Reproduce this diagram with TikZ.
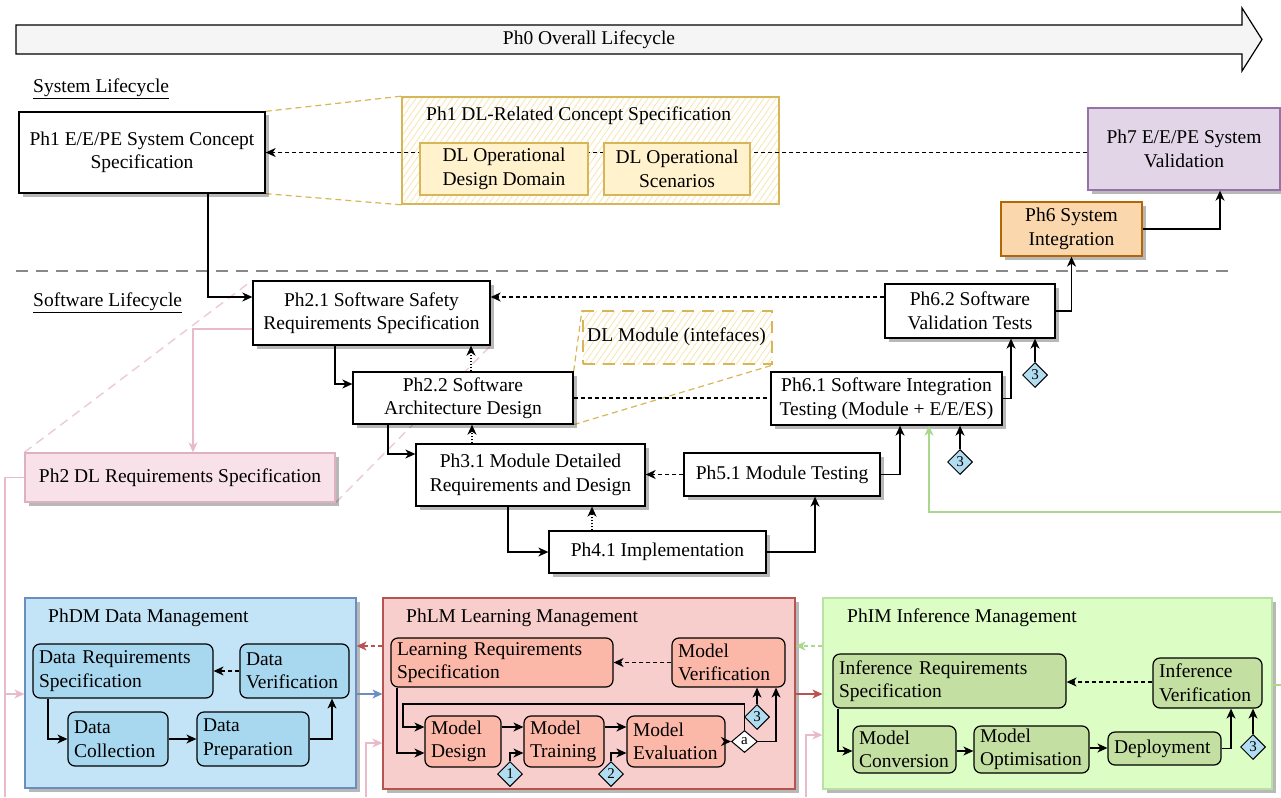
\documentclass[tikz,border=0pt]{standalone}
\usepackage{fontspec}
\setmainfont{Liberation Serif}
\usetikzlibrary{arrows.meta,shapes.geometric,shadows,patterns.meta,backgrounds}
\definecolor{arrowfill}{HTML}{F5F5F5}
\definecolor{purplef}{HTML}{E1D5E7}
\definecolor{purpled}{HTML}{9673A6}
\definecolor{orangef}{HTML}{FAD7AC}
\definecolor{oranged}{HTML}{B46504}
\definecolor{yelf}{HTML}{FFF2CC}
\definecolor{yeld}{HTML}{D6B656}
\definecolor{yelhatch}{HTML}{F7E6B0}
\definecolor{pinkf}{HTML}{F8E1E9}
\definecolor{pinkd}{HTML}{DDB0C2}
\definecolor{pinkl}{HTML}{E8BACB}
\definecolor{bluef}{HTML}{C2E4F6}
\definecolor{blued}{HTML}{6C8EBF}
\definecolor{blueb}{HTML}{A8D8F0}
\definecolor{redf}{HTML}{F8CECC}
\definecolor{redd}{HTML}{B85450}
\definecolor{redb}{HTML}{FBB8A9}
\definecolor{greenf}{HTML}{DCFDC3}
\definecolor{greend}{HTML}{B9E0A5}
\definecolor{greenb}{HTML}{C3DFA2}
\definecolor{greenl}{HTML}{A9D78C}
\definecolor{diaf}{HTML}{B1DDF0}
\definecolor{sepgray}{HTML}{888888}
\begin{document}
\begin{tikzpicture}[x=1pt,y=-1pt,
  every node/.style={font=\fontsize{19.5}{23.5}\selectfont},
  shad/.style={drop shadow={shadow xshift=3.5pt,shadow yshift=-3.5pt,fill=black,opacity=0.28}},
  pbox/.style={draw=black,line width=1.3pt,fill=white,align=center,inner sep=0pt,shad},
  ib/.style={draw=black,line width=1.2pt,rounded corners=7pt,align=left,inner xsep=6pt,inner ysep=0pt},
  ctr/.style={line width=1.2pt,inner sep=0pt,shad},
  dia/.style={diamond,draw=black,fill=diaf,line width=1pt,inner sep=0pt,minimum width=25pt,minimum height=25pt,font=\fontsize{15}{15}\selectfont},
  arr/.style={line width=1.3pt,-{Stealth[length=10pt,width=9pt,inset=3pt]}},
  darr/.style={arr,dash pattern=on 4pt off 3pt},
  dotarr/.style={arr,dash pattern=on 1.5pt off 1.5pt},
  dline/.style={line width=1.3pt,dash pattern=on 4pt off 3pt},
  goldzoom/.style={draw=yeld,line width=1.2pt,dash pattern=on 6pt off 4pt},
  pinkzoom/.style={draw=pinkl,line width=1.5pt,dash pattern=on 9pt off 6pt,opacity=0.75},
  pinkline/.style={draw=pinkl,line width=1.5pt},
  pinkarr/.style={arr,draw=pinkl,line width=1.5pt},
  redarr/.style={arr,draw=redd},
  bluearr/.style={arr,draw=blued},
  greenarr/.style={arr,draw=greenl},
  greenline/.style={draw=greenl,line width=1.2pt},
  hatch/.style={preaction={fill=white},pattern={Lines[angle=55,distance=5pt,line width=0.8pt]},pattern color=yelhatch},
  ttl/.style={anchor=west,inner sep=0pt}
]
\useasboundingbox (0,0) rectangle (1281,797);

% Ph0 overall lifecycle arrow
\draw[fill=arrowfill,line width=1.2pt] (16,25) -- (1242,25) -- (1242,8) -- (1262,39.5) -- (1242,71) -- (1242,54) -- (16,54) -- cycle;
\node (ph0) at (589,39.5) {Ph0 Overall Lifecycle};

\node[ttl] (syslc) at (33,89) {\underline{System Lifecycle}};
\node[ttl] (swlc) at (33,303) {\underline{Software Lifecycle}};
\draw[draw=sepgray,line width=1.2pt,dash pattern=on 12pt off 8pt] (16,271) -- (1232,271);

% ---------- system level ----------
\node[pbox,minimum width=246pt,minimum height=81pt] (ph1) at (142,152.5) {Ph1 E/E/PE System Concept\\Specification};
\node[pbox,fill=purplef,draw=purpled,minimum width=192pt,minimum height=82pt] (ph7) at (1184,149) {Ph7 E/E/PE System\\Validation};
\node[pbox,fill=orangef,draw=oranged,minimum width=141pt,minimum height=54pt] (ph6) at (1071.5,229) {Ph6 System\\Integration};

\node[hatch,draw=yeld,line width=1.6pt,minimum width=377pt,minimum height=107pt,inner sep=0pt] (dlc) at (590.5,150.5) {};
\node[ttl] (dlct) at (426,116) {Ph1 DL-Related Concept Specification};
\draw[darr] (ph7.west |- ph1.east) -- (ph1.east);
\node[draw=yeld,fill=yelf,line width=1.2pt,align=center,inner sep=0pt,minimum width=168pt,minimum height=52pt] (odd) at (504,169) {DL Operational\\Design Domain};
\node[draw=yeld,fill=yelf,line width=1.2pt,align=center,inner sep=0pt,minimum width=146pt,minimum height=52pt] (scen) at (677,169) {DL Operational\\Scenarios};

\draw[arr] (ph6.east) -| ([xshift=36pt]ph7.south);

% ---------- software level ----------
\node[pbox,minimum width=237pt,minimum height=64pt] (ph21) at (371.5,313) {Ph2.1 Software Safety\\Requirements Specification};
\node[pbox,minimum width=170pt,minimum height=54pt] (ph62) at (970,311) {Ph6.2 Software\\Validation Tests};
\node[pbox,minimum width=220pt,minimum height=52pt] (ph22) at (463,398) {Ph2.2 Software\\Architecture Design};
\node[pbox,minimum width=231pt,minimum height=53pt] (ph61) at (886.5,398.5) {Ph6.1 Software Integration\\Testing (Module + E/E/ES)};
\node[pbox,minimum width=229pt,minimum height=62pt] (ph31) at (530.5,475) {Ph3.1 Module Detailed\\Requirements and Design};
\node[pbox,minimum width=196pt,minimum height=43pt] (ph51) at (782,474.5) {Ph5.1 Module Testing};
\node[pbox,minimum width=217pt,minimum height=42pt] (ph41) at (657.5,552) {Ph4.1 Implementation};
\node[pbox,fill=pinkf,draw=pinkd,minimum width=310pt,minimum height=49pt] (ph2dl) at (180,477.5) {Ph2 DL Requirements Specification};

\node[hatch,draw=yeld,line width=2pt,dash pattern=on 12pt off 8pt,minimum width=189pt,minimum height=53pt,inner sep=0pt] (dlm) at (677.5,337.5) {};
\node[ttl] (dlmt) at (587,337) {DL Module (intefaces)};

\node[dia] (d3a) at (1035,375) {3};
\node[dia] (d3b) at (960,462) {3};

\begin{scope}[on background layer]
  \draw[goldzoom] (ph1.north east) -- (dlc.north west);
  \draw[goldzoom] (ph1.south east) -- (dlc.south west);
  \draw[goldzoom] (ph22.north east) -- (dlm.north west);
  \draw[goldzoom] (ph22.south east) -- (dlm.south east);
  \draw[pinkzoom] (ph2dl.north west) -- (ph21.north west);
  \draw[pinkzoom] (ph2dl.south east) -- (ph21.south east);
\end{scope}

\draw[arr] (208,0 |- ph1.south) |- (ph21.west |- 0,297);
\draw[darr] (ph62.west |- 0,297) -- (ph21.east |- 0,297);
\draw[arr] (ph62.east) -| (ph6.south);
\draw[pinkarr] (ph21.west |- 0,329) -| (193,0 |- ph2dl.north);
\draw[arr] (335,0 |- ph21.south) |- (ph22.west |- 0,384);
\draw[dotarr] (471,0 |- ph22.north) -- (471,0 |- ph21.south);
\draw[arr] (388,0 |- ph22.south) |- (ph31.west |- 0,454);
\draw[dotarr] (472,0 |- ph31.north) -- (472,0 |- ph22.south);
\draw[arr] (508,0 |- ph31.south) |- (ph41.west);
\draw[dotarr] (592,0 |- ph41.north) -- (592,0 |- ph31.south);
\draw[arr] (ph41.east) -| (815,0 |- ph51.south);
\draw[darr] (ph51.west) -- (ph31.east |- ph51.west);
\draw[dline] (ph22.east) -- (ph61.west |- ph22.east);
\draw[arr] (ph51.east) -| (900,0 |- ph61.south);
\draw[arr] (ph61.east) -| (1011,0 |- ph62.south);
\draw[arr] (d3a.north) -- (d3a.north |- ph62.south);
\draw[arr] (d3b.north) -- (d3b.north |- ph61.south);
\coordinate (gin) at (1281,512);
\draw[greenarr] (gin) -| (929,0 |- ph61.south);

% ---------- bottom panels ----------
\node[ctr,draw=blued,fill=bluef,minimum width=331pt,minimum height=190pt] (phdm) at (190.5,693) {};
\node[ttl] (phdmt) at (48,618) {PhDM Data Management};
\node[ctr,draw=redd,fill=redf,minimum width=412pt,minimum height=191pt] (phlm) at (589,693.5) {};
\node[ttl] (phlmt) at (406,618) {PhLM Learning Management};
\node[ctr,draw=greend,fill=greenf,minimum width=449pt,minimum height=191pt] (phim) at (1047.5,693.5) {};
\node[ttl] (phimt) at (847,618) {PhIM Inference Management};

% PhDM
\node[ib,fill=blueb,text width=168pt,minimum height=54pt] (drs) at (123,671) {Data Requirements\\Specification};
\node[ib,fill=blueb,text width=97pt,minimum height=54pt] (dv) at (294.5,671) {Data\\Verification};
\node[ib,fill=blueb,text width=88pt,minimum height=54pt] (dc) at (118,739) {Data\\Collection};
\node[ib,fill=blueb,text width=100pt,minimum height=54pt] (dp) at (253,739) {Data\\Preparation};
\draw[darr] (dv.west) -- (drs.east |- dv.west);
\draw[arr] (48,0 |- drs.south) |- (dc.west);
\draw[arr] (dc.east) -- (dp.west);
\draw[arr] (dp.east) -| (332,0 |- dv.south);

% PhLM
\node[ib,fill=redb,text width=210pt,minimum height=49pt] (lrs) at (502,662.5) {Learning Requirements\\Specification};
\node[ib,fill=redb,text width=101pt,minimum height=49pt] (mv) at (728.5,662.5) {Model\\Verification};
\node[ib,fill=redb,text width=64pt,minimum height=51pt] (md) at (463,741.5) {Model\\Design};
\node[ib,fill=redb,text width=68pt,minimum height=51pt] (mt) at (564,741.5) {Model\\Training};
\node[ib,fill=redb,text width=86pt,minimum height=51pt] (me) at (676,741.5) {Model\\Evaluation};
\node[dia,fill=white,minimum width=26pt,minimum height=22pt] (da) at (744.5,741.5) {a};
\node[dia] (d3l) at (757,717) {3};
\node[dia] (d1) at (510,774) {1};
\node[dia] (d2) at (611,774) {2};
\draw[darr] (mv.west) -- (lrs.east |- mv.west);
\draw[arr] (397,0 |- lrs.south) |- (md.west |- 0,753);
\draw[arr] (da.north) |- (403,704) |- (md.west |- 0,727);
\draw[arr] (me.east) -- (da.west);
\draw[arr] (da.east) -| (776,0 |- mv.south);
\draw[arr] (d3l.north) -- (d3l.north |- mv.south);
\draw[arr] (md.east |- 0,727) -- (mt.west |- 0,727);
\draw[arr] (d1.north) |- (mt.west |- 0,753);
\draw[arr] (mt.east |- 0,727) -- (me.west |- 0,727);
\draw[arr] (d2.north) |- (me.west |- 0,753);

% PhIM
\node[ib,fill=greenb,text width=221pt,minimum height=54pt] (irs) at (949.5,681) {Inference Requirements\\Specification};
\node[ib,fill=greenb,text width=97pt,minimum height=50pt] (iv) at (1207.5,683) {Inference\\Verification};
\node[ib,fill=greenb,text width=91pt,minimum height=47pt] (mc) at (904.5,749.5) {Model\\Conversion};
\node[ib,fill=greenb,text width=103pt,minimum height=47pt] (mo) at (1031.5,749.5) {Model\\Optimisation};
\node[ib,fill=greenb,text width=101pt,minimum height=33pt] (dep) at (1164.5,748.5) {Deployment};
\node[dia] (d3i) at (1253,747) {3};
\draw[darr] (iv.west |- 0,682) -- (irs.east |- 0,682);
\draw[arr] (838,0 |- irs.south) |- (mc.west |- 0,751);
\draw[arr] (mc.east |- 0,751) -- (mo.west |- 0,751);
\draw[arr] (mo.east |- 0,748) -- (dep.west |- 0,748);
\draw[arr] (dep.east) -| (1231,0 |- iv.south);
\draw[arr] (d3i.north) -- (d3i.north |- iv.south);

% connections between panels
\coordinate (pl) at (5,797);
\draw[pinkline] (ph2dl.west) -- (5,0 |- ph2dl.west) -- (pl);
\draw[pinkarr] (5,694) -- (phdm.west |- 0,694);
\draw[redarr,dash pattern=on 4pt off 3pt] (phlm.west |- 0,646) -- (phdm.east |- 0,646);
\draw[bluearr] (phdm.east |- 0,694) -- (phlm.west |- 0,694);
\coordinate (pin1) at (366,797);
\draw[pinkarr] (pin1) |- (phlm.west |- 0,743);
\draw[greenarr,dash pattern=on 4pt off 3pt] (phim.west |- 0,646) -- (phlm.east |- 0,646);
\draw[redarr] (phlm.east |- 0,694) -- (phim.west |- 0,694);
\coordinate (pin2) at (806,797);
\draw[pinkarr] (pin2) |- (phim.west |- 0,735);
\coordinate (gout) at (1281,685);
\draw[greenline] (phim.east |- gout) -- (gout);
\end{tikzpicture}
\end{document}
